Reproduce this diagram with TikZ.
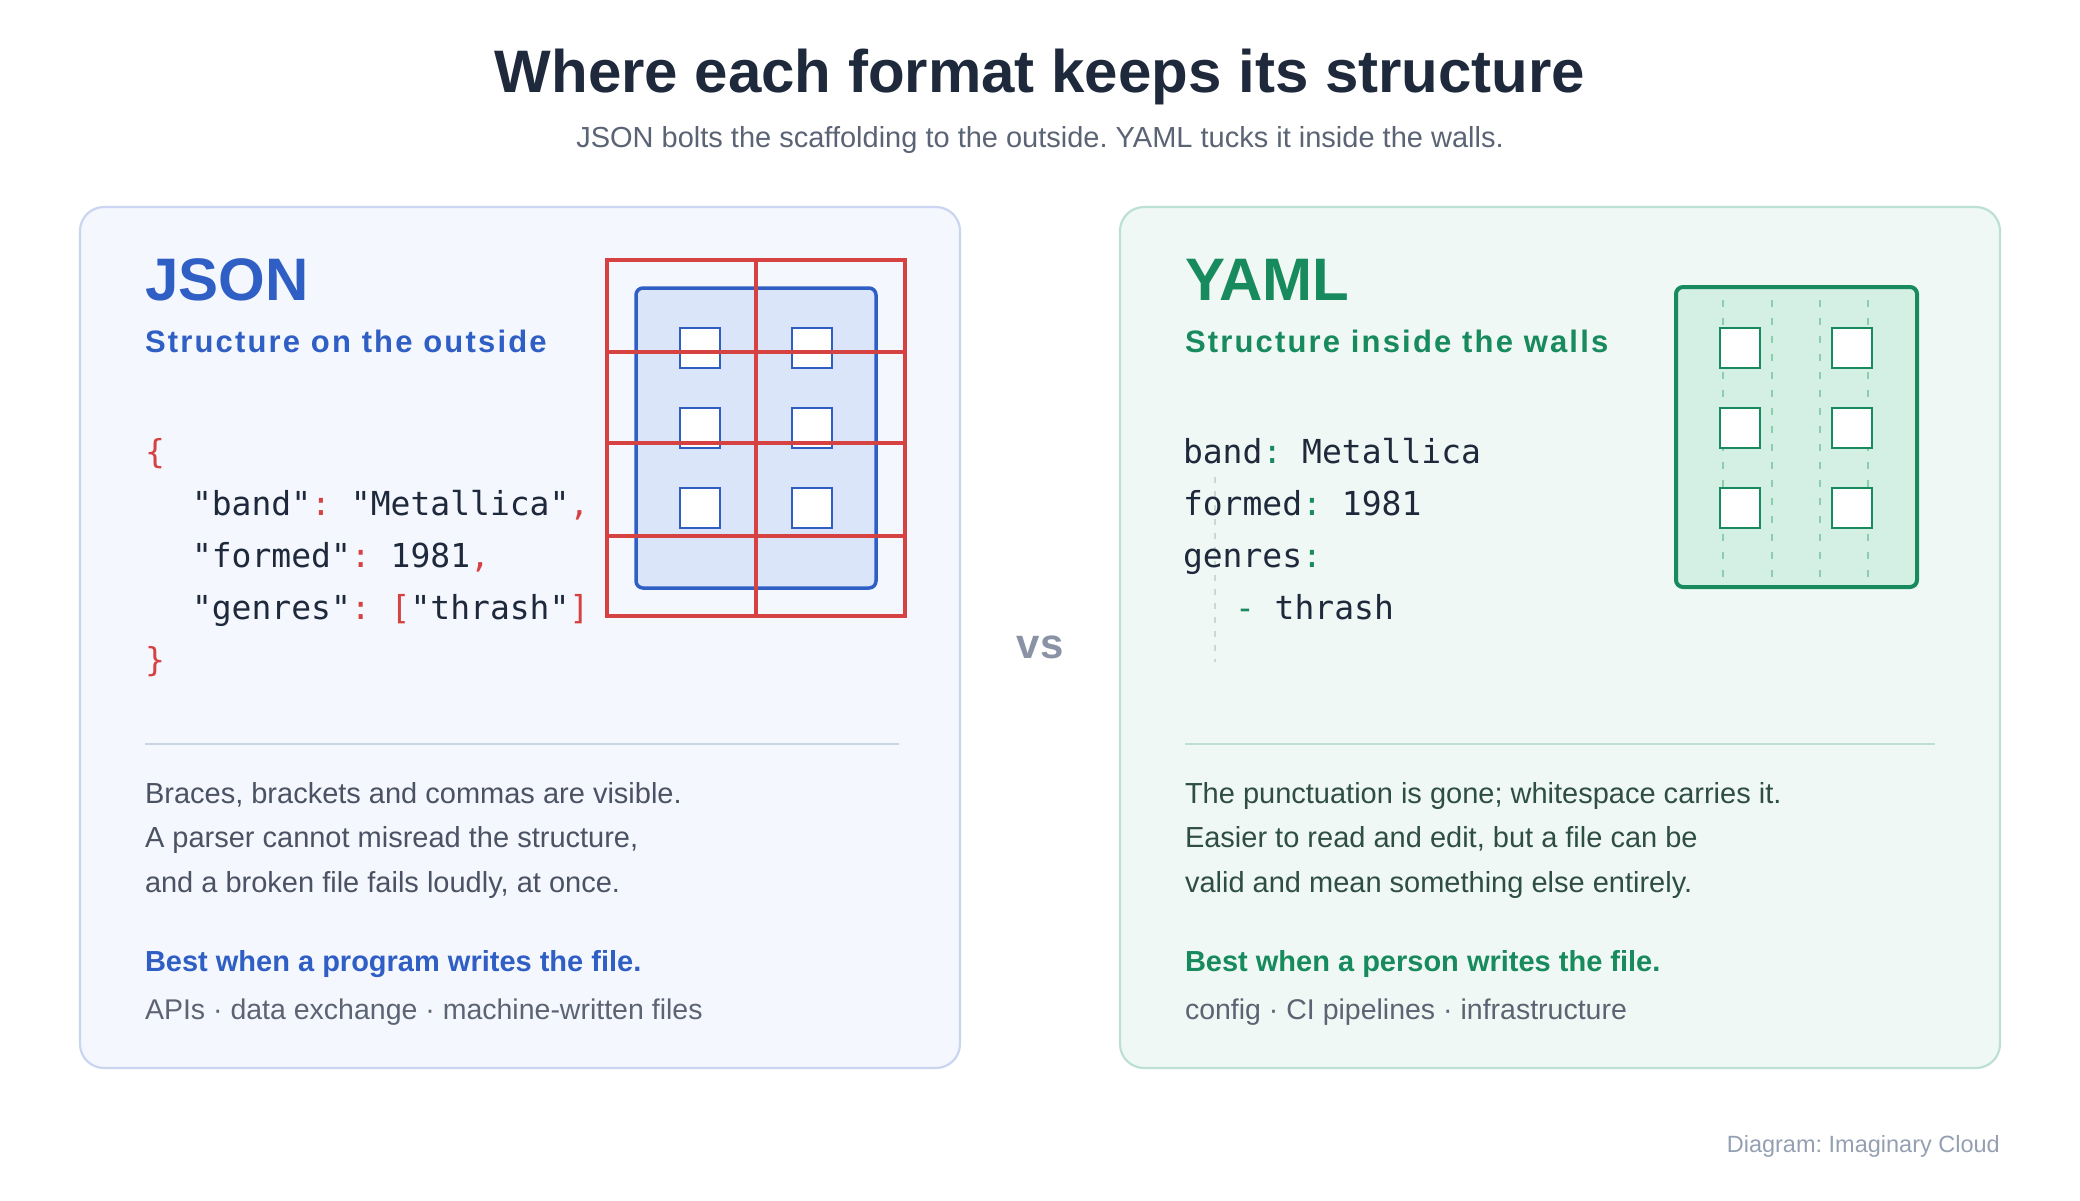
\documentclass[tikz,border=0pt]{standalone}
\usepackage{fontspec}
\setmainfont{Liberation Sans}
\newfontfamily\codefont{DejaVu Sans Mono}
\newfontfamily\spacedfont{Liberation Sans}[LetterSpace=7]
\definecolor{ink}{HTML}{1E293B}
\definecolor{subc}{HTML}{5B6475}
\definecolor{jblue}{HTML}{2F5EC4}
\definecolor{jred}{HTML}{D64242}
\definecolor{ygreen}{HTML}{178A5E}
\definecolor{leftfill}{HTML}{F4F7FE}
\definecolor{leftborder}{HTML}{CAD5F0}
\definecolor{rightfill}{HTML}{F0F8F5}
\definecolor{rightborder}{HTML}{BCE1D3}
\definecolor{bfill}{HTML}{DBE5F9}
\definecolor{gfill}{HTML}{D4EFE4}
\definecolor{gdash}{HTML}{8FCDB2}
\definecolor{bodyL}{HTML}{4A5263}
\definecolor{bodyR}{HTML}{2E4D43}
\definecolor{tagc}{HTML}{5C6372}
\definecolor{divL}{HTML}{CBD5E3}
\definecolor{divR}{HTML}{BFDDD1}
\definecolor{footc}{HTML}{94A0B2}
\definecolor{vsc}{HTML}{8A93A6}
\definecolor{guide}{HTML}{C9D8D2}
\frenchspacing
\tikzset{
  txt/.style={anchor=base west, inner sep=0pt, outer sep=0pt},
  heading/.style={txt, font=\fontsize{60bp}{72bp}\selectfont\bfseries},
  subhead/.style={txt, font=\fontsize{31bp}{37bp}\selectfont\spacedfont\bfseries},
  code/.style={txt, font=\fontsize{33bp}{40bp}\selectfont\codefont, text=ink},
  body/.style={txt, font=\fontsize{29bp}{35bp}\selectfont},
  tag/.style={txt, font=\fontsize{28.5bp}{34bp}\selectfont, text=tagc},
  best/.style={txt, font=\fontsize{29bp}{35bp}\selectfont\bfseries},
  panel/.style={rounded corners=24bp, line width=2.2bp},
  window/.style={fill=white, line width=2bp},
}
\begin{document}
\begin{tikzpicture}[x=1bp, y=-1bp]
\useasboundingbox (0,0) rectangle (2080,1200);
\fill[white] (0,0) rectangle (2080,1200);

% title
\node[anchor=base, inner sep=0pt, font=\fontsize{60bp}{72bp}\selectfont\bfseries, text=ink] (title) at (1040,92) {Where each format keeps its structure};
\node[anchor=base, inner sep=0pt, font=\fontsize{29bp}{35bp}\selectfont, text=subc] (subtitle) at (1040,147) {JSON bolts the scaffolding to the outside. YAML tucks it inside the walls.};

% panels
\draw[panel, fill=leftfill, draw=leftborder] (80,207) rectangle (960,1068);
\draw[panel, fill=rightfill, draw=rightborder] (1120,207) rectangle (2000,1068);
\coordinate (lpanel) at (520,637);
\coordinate (rpanel) at (1560,637);

% vs
\node[anchor=base, inner sep=0pt, font=\fontsize{42bp}{50bp}\selectfont\bfseries, text=vsc] (vs) at (1040,658) {vs};

% ---------- JSON side ----------
\node[heading, text=jblue] (jsonh) at (145,300) {JSON};
\node[subhead, text=jblue] (jsonsub) at (145,352) {Structure on the outside};

\node[code] (j0) at (145,463) {\textcolor{jred}{\{}};
\node[code] (j1) at (192,515) {"band"\textcolor{jred}{:} "Metallica"\textcolor{jred}{,}};
\node[code] (j2) at (192,567) {"formed"\textcolor{jred}{:} 1981\textcolor{jred}{,}};
\node[code] (j3) at (192,619) {"genres"\textcolor{jred}{:} \textcolor{jred}{[}"thrash"\textcolor{jred}{]}};
\node[code] (j4) at (145,671) {\textcolor{jred}{\}}};

% JSON building
\draw[fill=bfill, draw=jblue, line width=3.5bp, rounded corners=7bp] (636,288) rectangle (876,588);
\foreach \cx in {680,792}{
  \foreach \cy in {328,408,488}{
    \draw[window, draw=jblue] (\cx,\cy) rectangle ++(40,40);
  }
}
% red external scaffolding
\draw[jred, line width=4bp] (607,260) rectangle (905,616);
\draw[jred, line width=4bp] (756,260) -- (756,616);
\foreach \yy in {352,443,536}{
  \draw[jred, line width=4bp] (607,\yy) -- (905,\yy);
}

\draw[divL, line width=2bp] (145,744) -- (899,744);

\node[body, text=bodyL] (jb1) at (145,803) {Braces, brackets and commas are visible.};
\node[body, text=bodyL] (jb2) at (145,847) {A parser cannot misread the structure,};
\node[body, text=bodyL] (jb3) at (145,892) {and a broken file fails loudly, at once.};
\node[best, text=jblue] (jbest) at (145,971) {Best when a program writes the file.};
\node[tag] (jtag) at (145,1019) {APIs · data exchange · machine-written files};

% ---------- YAML side ----------
\node[heading, text=ygreen] (yamlh) at (1185,300) {YAML};
\node[subhead, text=ygreen] (yamlsub) at (1185,352) {Structure inside the walls};

\draw[guide, line width=2bp, dash pattern=on 6bp off 8bp] (1215,477) -- (1215,662);
\node[code] (y1) at (1183,463) {band\textcolor{ygreen}{:} Metallica};
\node[code] (y2) at (1183,515) {formed\textcolor{ygreen}{:} 1981};
\node[code] (y3) at (1183,567) {genres\textcolor{ygreen}{:}};
\node[code] (y4) at (1235,619) {\textcolor{ygreen}{-} thrash};

% YAML building
\draw[fill=gfill, draw=ygreen, line width=4bp, rounded corners=7bp] (1676,287) rectangle (1917,587);
\foreach \xx in {1723,1772,1820,1868}{
  \draw[gdash, line width=2.5bp, dash pattern=on 7bp off 11bp] (\xx,300) -- (\xx,577);
}
\foreach \cx in {1720,1832}{
  \foreach \cy in {328,408,488}{
    \draw[window, draw=ygreen] (\cx,\cy) rectangle ++(40,40);
  }
}

\draw[divR, line width=2bp] (1185,744) -- (1935,744);

\node[body, text=bodyR] (yb1) at (1185,803) {The punctuation is gone; whitespace carries it.};
\node[body, text=bodyR] (yb2) at (1185,847) {Easier to read and edit, but a file can be};
\node[body, text=bodyR] (yb3) at (1185,892) {valid and mean something else entirely.};
\node[best, text=ygreen] (ybest) at (1185,971) {Best when a person writes the file.};
\node[tag] (ytag) at (1185,1019) {config · CI pipelines · infrastructure};

% footer
\node[anchor=base east, inner sep=0pt, font=\fontsize{23.5bp}{28bp}\selectfont, text=footc] (footer) at (2000,1152) {Diagram: Imaginary Cloud};
\end{tikzpicture}
\end{document}
